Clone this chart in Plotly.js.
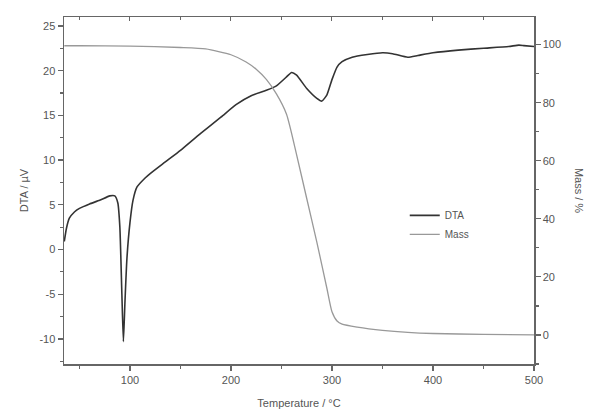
<!DOCTYPE html>
<html>
<head>
<meta charset="utf-8">
<script src="https://cdn.plot.ly/plotly-3.0.1.min.js"></script>
<style>html,body{margin:0;padding:0;background:#fff;}#chart{width:589px;height:417px;}</style>
</head>
<body>
<div id="chart"></div>
<script>
// DTA curve (left axis, µV)
const dtaTemp = [35, 37, 40, 45, 50, 60, 70, 80, 85, 88, 90, 92, 93.5, 95, 97, 100, 103, 107, 115, 120, 135, 150, 170, 190, 205, 220, 235, 245, 255, 260, 265, 275, 285, 290, 295, 300, 305, 310, 320, 335, 350, 360, 375, 385, 400, 425, 450, 475, 485, 490, 500];
const dtaVal  = [0.9, 2.3, 3.5, 4.2, 4.6, 5.1, 5.5, 6.0, 6.0, 5.2, 2.5, -5, -10.3, -6, -1, 3, 5.5, 7, 8, 8.5, 9.8, 11.1, 13.0, 14.8, 16.2, 17.2, 17.8, 18.3, 19.3, 19.8, 19.5, 18.0, 16.9, 16.6, 17.3, 19.0, 20.4, 21.0, 21.5, 21.8, 22.0, 21.9, 21.5, 21.7, 22.0, 22.3, 22.5, 22.7, 22.85, 22.8, 22.7];
// Mass curve (right axis, %)
const massTemp = [35, 50, 100, 150, 175, 200, 215, 225, 235, 245, 255, 265, 275, 285, 295, 300, 305, 310, 325, 350, 375, 400, 450, 500];
const massVal  = [99.6, 99.6, 99.5, 99.0, 98.5, 96.5, 94, 91.5, 88, 83, 76, 62, 47, 32, 16, 8, 4.8, 3.7, 2.7, 1.6, 0.9, 0.5, 0.2, 0];
// Tick labels
const dtaTicks = [-10, -5, 0, 5, 10, 15, 20, 25];
const dtaTickText = ['-10', '-5', '0', '5', '10', '15', '20', '25'];

const font = {family: '"Liberation Sans", Arial, sans-serif', size: 11, color: '#555'};
const axCol = '#666';

const traces = [
  {x: dtaTemp, y: dtaVal, name: 'DTA', type: 'scatter', mode: 'lines',
   line: {color: '#333', width: 1.6, shape: 'spline', smoothing: 0.5}, xaxis: 'x', yaxis: 'y'},
  {x: massTemp, y: massVal, name: 'Mass', type: 'scatter', mode: 'lines',
   line: {color: '#999', width: 1.3, shape: 'spline', smoothing: 0.6}, xaxis: 'x', yaxis: 'y2'},
  {x: dtaTemp, y: dtaVal, mode: 'none', xaxis: 'x2', yaxis: 'y', showlegend: false, hoverinfo: 'skip'}
];

const layout = {
  width: 589, height: 417,
  margin: {l: 64, r: 55, t: 17, b: 53},
  paper_bgcolor: '#fff', plot_bgcolor: '#fff',
  font: font,
  showlegend: true,
  legend: {x: 0.725, y: 0.47, xanchor: 'left', yanchor: 'top', bgcolor: 'rgba(0,0,0,0)',
           font: {family: font.family, size: 10, color: '#555'}, itemwidth: 30, tracegroupgap: 0},
  xaxis: {range: [34.7, 500], dtick: 100, tick0: 0, ticks: 'outside', ticklen: 5, tickwidth: 1.2, tickcolor: axCol,
          minor: {dtick: 50, tick0: 0, ticks: 'outside', ticklen: 3, tickcolor: axCol},
          showline: true, linecolor: axCol, linewidth: 1.5, showgrid: false, zeroline: false,
          title: {text: 'Temperature / °C', font: {size: 11, color: '#555'}, standoff: 14}},
  xaxis2: {matches: 'x', overlaying: 'x', side: 'top', anchor: 'y', range: [34.7, 500], dtick: 100, tick0: 0,
           ticks: 'inside', ticklen: 4, tickcolor: axCol, showticklabels: false,
           minor: {dtick: 50, tick0: 0, ticks: 'inside', ticklen: 3, tickcolor: axCol},
           showline: true, linecolor: axCol, linewidth: 1.5, showgrid: false, zeroline: false},
  yaxis: {range: [-12.8, 26.0], tickmode: 'array', tickvals: dtaTicks, ticktext: dtaTickText,
          ticks: 'outside', ticklen: 5, tickwidth: 1.2, tickcolor: axCol,
          minor: {dtick: 2.5, tick0: 0, ticks: 'outside', ticklen: 3, tickcolor: axCol},
          showline: true, linecolor: axCol, linewidth: 1.5, showgrid: false, zeroline: false,
          title: {text: 'DTA / µV', font: {size: 11, color: '#555'}, standoff: 8}},
  yaxis2: {range: [-10, 109.5], dtick: 20, tick0: 0, overlaying: 'y', side: 'right', anchor: 'x',
           ticks: 'outside', ticklen: 5, tickwidth: 1.2, tickcolor: axCol,
           minor: {dtick: 10, tick0: 0, ticks: 'outside', ticklen: 3, tickcolor: axCol},
           showline: true, linecolor: axCol, linewidth: 1.5, showgrid: false, zeroline: false},
  annotations: [
    {text: 'Mass / %', xref: 'paper', yref: 'paper', x: 1.097, y: 0.5, textangle: 90, showarrow: false,
     xanchor: 'center', yanchor: 'middle', font: {size: 11, color: '#555'}}
  ]
};

Plotly.newPlot('chart', traces, layout, {staticPlot: true, displayModeBar: false});
</script>
</body>
</html>
